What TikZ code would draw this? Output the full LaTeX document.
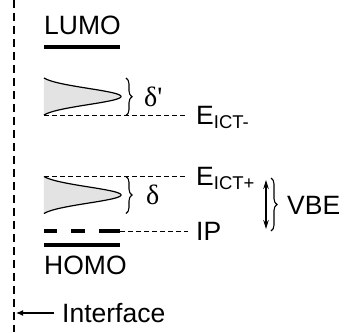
\documentclass[tikz,border=0pt]{standalone}
\usepackage{fontspec}
\setmainfont{Liberation Sans}
\newfontfamily\greekserif{Liberation Serif}
\usetikzlibrary{decorations.pathreplacing,arrows.meta}

\newcommand{\lvsub}[1]{\raisebox{-3.5pt}{\fontsize{18.5}{18.5}\selectfont #1}}

\begin{document}
\begin{tikzpicture}[x=1pt,y=-1pt,
    font=\fontsize{26.5}{30}\selectfont,
    lbl/.style={inner sep=0pt},
    level/.style={line width=3.2pt},
    guide/.style={line width=1pt,dash pattern=on 4.5pt off 3.5pt},
    dosfill/.style={fill=black!11},
    dosline/.style={line width=1.2pt},
    bracedeco/.style={line width=1.1pt,decorate,decoration={brace,amplitude=6pt}},
  ]
  \useasboundingbox (0,0) rectangle (345,332);

  % interface plane
  \draw[line width=1.2pt,dash pattern=on 8pt off 5pt] (14,0) -- (14,332);

  % LUMO
  \node[lbl,anchor=base west] (lumo) at (44,34) {LUMO};
  \draw[level] (44,47) -- (120,47);

  % gap-state densities (gaussian profile, peak to the right)
  \foreach \c in {96.5,195}{
    \fill[dosfill] (44,\c-18.5)
      -- plot[domain=-18.5:18.5,samples=90]
         ({44+77*(exp(-(\x*\x)/132)-0.075)/0.925},{\c+\x}) -- cycle;
    \draw[dosline] plot[domain=-18.5:18.5,samples=90]
         ({44+77*(exp(-(\x*\x)/132)-0.075)/0.925},{\c+\x});
  }

  % E_ICT- level
  \coordinate (em0) at (44,115.5);
  \node[lbl,anchor=base west] (eictm) at (196,124.5) {E\lvsub{ICT-}};
  \draw[guide] (em0) -- (188,115.5);
  \draw[bracedeco] (126,78) -- (126,115.5);
  \node[lbl,anchor=west] (dprime) at (144,97) {\greekserif\fontsize{28}{30}\selectfont δ\textquotesingle};

  % E_ICT+ level
  \coordinate (ep0) at (44,176.5);
  \node[lbl,anchor=base west] (eictp) at (196,185.5) {E\lvsub{ICT+}};
  \draw[guide] (ep0) -- (188,176.5);
  \draw[bracedeco] (126,176.5) -- (126,213.5);
  \node[lbl,anchor=west] (delta) at (146,195) {\greekserif\fontsize{28}{30}\selectfont δ};

  % IP level
  \foreach \a/\b in {44/57,71/85,99/120}
    \draw[line width=3.4pt] (\a,231) -- (\b,231);
  \coordinate (ip0) at (120,231);
  \node[lbl,anchor=base west] (ip) at (196,240.5) {IP};
  \draw[guide] (ip0) -- (188,231);

  % HOMO
  \draw[level] (44,245) -- (120,245);
  \node[lbl,anchor=base west] (homo) at (44,274.5) {HOMO};

  % VBE
  \coordinate (vt) at (266,180);
  \coordinate (vb) at (266,229);
  \draw[line width=1.4pt,{Stealth[length=9pt,width=5.5pt]}-{Stealth[length=9pt,width=5.5pt]}] (vt) -- (vb);
  \draw[bracedeco] (271,178) -- (271,231);
  \node[lbl,anchor=west] (vbe) at (287,205) {VBE};

  % interface label
  \coordinate (iface) at (16,313);
  \node[lbl,anchor=west] (ifl) at (62,313) {Interface};
  \draw[line width=1.2pt,-{Latex[length=7pt,width=6pt]}] ([xshift=-8pt]ifl.west) -- (iface);
\end{tikzpicture}
\end{document}
